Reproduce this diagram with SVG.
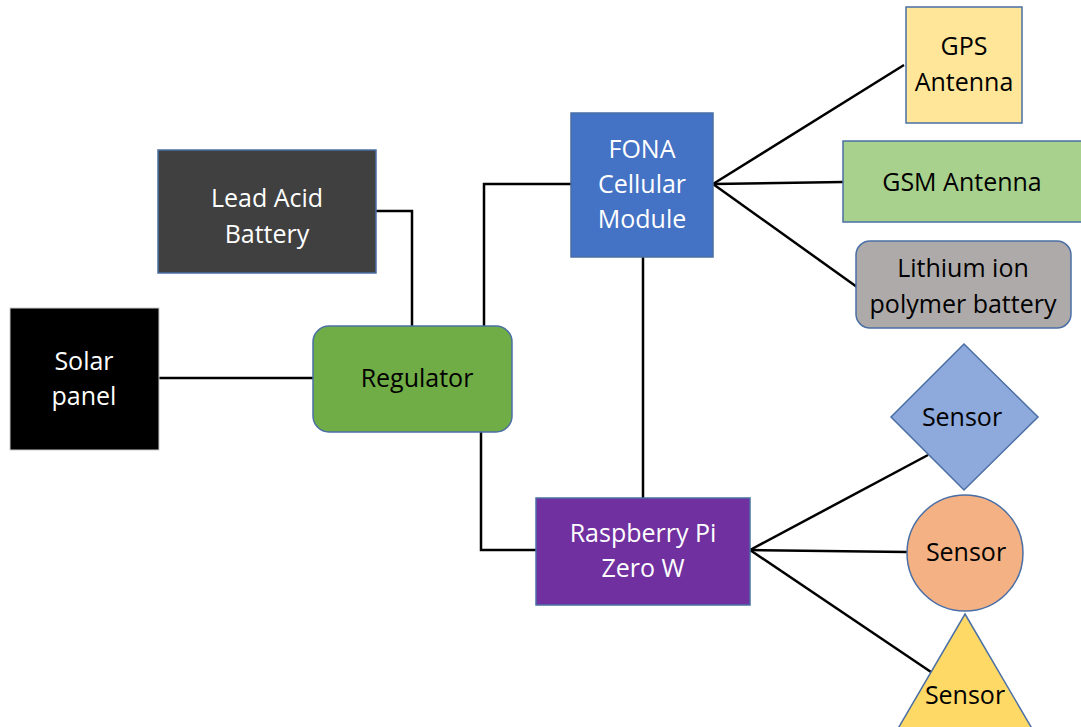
<svg xmlns="http://www.w3.org/2000/svg" width="1081" height="727" viewBox="0 0 1081 727">
<style>
.n{stroke:#4A6FA5;stroke-width:1.5}
.t{font-family:"Open Sans","Liberation Sans",sans-serif;font-size:25px;text-anchor:middle;dominant-baseline:central}
.w{fill:#ffffff}
.k{fill:#000000}
.c{fill:none;stroke:#000;stroke-width:2.5}
</style>
<rect width="1081" height="727" fill="#ffffff"/>
<g id="connectors">
<path class="c" d="M159 378H313"/>
<path class="c" d="M376 211H412V326"/>
<path class="c" d="M484 326V184H571"/>
<path class="c" d="M481 432V550H536"/>
<path class="c" d="M643 257V498"/>
<path class="c" d="M713 184L904 65"/>
<path class="c" d="M713 184L843 182"/>
<path class="c" d="M713 184L857 287"/>
<path class="c" d="M750 550L928 455"/>
<path class="c" d="M750 550L907 552"/>
<path class="c" d="M750 550L931 672"/>
</g>
<g id="solar">
<rect x="10" y="308" width="149" height="142" fill="#000000" stroke="#cccccc" stroke-width="1"/>
<text class="t w" x="84" y="360">Solar</text>
<text class="t w" x="84" y="395">panel</text>
</g>
<g id="lead-acid">
<rect class="n" x="158" y="150" width="218" height="123" fill="#404040"/>
<text class="t w" x="267" y="197">Lead Acid</text>
<text class="t w" x="267" y="233">Battery</text>
</g>
<g id="regulator">
<rect class="n" x="313" y="326" width="199" height="106" rx="16" fill="#70AD47"/>
<text class="t k" x="417" y="377">Regulator</text>
</g>
<g id="fona">
<rect class="n" x="571" y="113" width="142" height="144" fill="#4472C4"/>
<text class="t w" x="642" y="148">FONA</text>
<text class="t w" x="642" y="183">Cellular</text>
<text class="t w" x="642" y="218">Module</text>
</g>
<g id="rpi">
<rect class="n" x="536" y="498" width="214" height="107" fill="#7030A0"/>
<text class="t w" x="643" y="532">Raspberry Pi</text>
<text class="t w" x="643" y="567">Zero W</text>
</g>
<g id="gps">
<rect class="n" x="906" y="7" width="116" height="116" fill="#FFE699"/>
<text class="t k" x="964" y="45">GPS</text>
<text class="t k" x="964" y="81">Antenna</text>
</g>
<g id="gsm">
<rect class="n" x="843" y="141" width="245" height="81" fill="#A9D18E"/>
<text class="t k" x="962" y="181">GSM Antenna</text>
</g>
<g id="lithium">
<rect class="n" x="856" y="241" width="215" height="87" rx="14" fill="#AEAAAA"/>
<text class="t k" x="963" y="267">Lithium ion</text>
<text class="t k" x="963" y="303">polymer battery</text>
</g>
<g id="sensor-diamond">
<polygon class="n" points="964,344 1038,417 964,490 891,417" fill="#8EA9DB"/>
<text class="t k" x="962" y="416">Sensor</text>
</g>
<g id="sensor-circle">
<circle class="n" cx="965" cy="553" r="58" fill="#F4B183"/>
<text class="t k" x="966" y="551">Sensor</text>
</g>
<g id="sensor-triangle">
<polygon class="n" points="965,614 1034,732 896,732" fill="#FFD966"/>
<text class="t k" x="965" y="694">Sensor</text>
</g>
</svg>
